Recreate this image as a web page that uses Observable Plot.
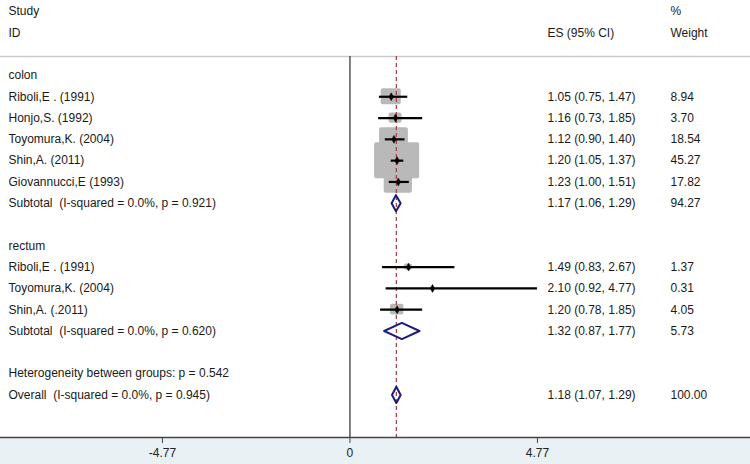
<!DOCTYPE html>
<html><head><meta charset="utf-8">
<script src="https://cdn.jsdelivr.net/npm/d3@7"></script>
<script src="https://cdn.jsdelivr.net/npm/@observablehq/plot@0.6"></script>
<style>body{margin:0;background:#fff} svg{display:block} svg text{white-space:pre}</style>
</head><body><div id="chart"></div>
<script>
// ---- data ----
const rowLabels = ["colon","Riboli,E . (1991)","Honjo,S. (1992)","Toyomura,K. (2004)","Shin,A. (2011)","Giovannucci,E (1993)","Subtotal  (I-squared = 0.0%, p = 0.921)","","rectum","Riboli,E . (1991)","Toyomura,K. (2004)","Shin,A. (.2011)","Subtotal  (I-squared = 0.0%, p = 0.620)","","Heterogeneity between groups: p = 0.542","Overall  (I-squared = 0.0%, p = 0.945)"];
const rowKinds = ["group","study","study","study","study","study","pooled","blank","group","study","study","study","pooled","blank","note","pooled"];
const esVals = [null,1.05,1.16,1.12,1.20,1.23,1.17,null,null,1.49,2.10,1.20,1.32,null,null,1.18];
const loVals = [null,0.75,0.73,0.90,1.05,1.00,1.06,null,null,0.83,0.92,0.78,0.87,null,null,1.07];
const hiVals = [null,1.47,1.85,1.40,1.37,1.51,1.29,null,null,2.67,4.77,1.85,1.77,null,null,1.29];
const weightVals = ["","8.94","3.70","18.54","45.27","17.82","94.27","","","1.37","0.31","4.05","5.73","","","100.00"];
const xTicks = [-4.77, 0, 4.77];
const overallES = 1.18;
const headLeft = [{row: -3, text: "Study"}, {row: -2, text: "ID"}];
const headES = [{row: -2, text: "ES (95% CI)"}];
const headWt = [{row: -3, text: "%"}, {row: -2, text: "Weight"}];

// ---- table built from arrays ----
const rows = rowLabels.map((label, i) => ({
  i, label, kind: rowKinds[i], es: esVals[i], lo: loVals[i], hi: hiVals[i], w: weightVals[i],
  esText: esVals[i] == null ? "" : `${esVals[i].toFixed(2)} (${loVals[i].toFixed(2)}, ${hiVals[i].toFixed(2)})`
}));
const studies = rows.filter(d => d.kind === "study");
const pooled = rows.filter(d => d.kind === "pooled");
const withCI = rows.filter(d => d.es != null);

// layout
const headerRule = -0.89, axisRow = 17.0;
const colX = {left: 8, es: 547, wt: 670};
const boxW = 0.0851, boxH = 0.1256, diaH = 0.38;

const diamondPts = pooled.flatMap(d => [
  {i: d.i, x: d.lo, y: d.i}, {i: d.i, x: d.es, y: d.i - diaH},
  {i: d.i, x: d.hi, y: d.i}, {i: d.i, x: d.es, y: d.i + diaH},
  {i: d.i, x: d.lo, y: d.i}
]);

const txt = "#1a1a1a";
const tOpts = {frameAnchor: "left", textAnchor: "start", fill: txt};
const chart = Plot.plot({
  width: 750, height: 464,
  marginTop: 0, marginLeft: 0, marginRight: 0, marginBottom: 27,
  style: {fontFamily: "'Liberation Sans', Arial, sans-serif", fontSize: "12px", color: txt,
          background: "linear-gradient(to bottom, #ffffff 437px, #e9f1f4 437px)"},
  x: {domain: [-8.89, 10.19]},
  y: {domain: [-3.52, axisRow], reverse: true, axis: null},
  marks: [
    Plot.ruleY([headerRule], {stroke: "#c9c9c9", strokeWidth: 1.5}),
    Plot.ruleX([0], {y1: headerRule, y2: axisRow, stroke: "#555", strokeWidth: 1.5}),
    Plot.rect(studies, {x1: d => d.es - boxW * Math.sqrt(+d.w), x2: d => d.es + boxW * Math.sqrt(+d.w),
      y1: d => d.i - boxH * Math.sqrt(+d.w), y2: d => d.i + boxH * Math.sqrt(+d.w),
      fill: "#b9b9b9", rx: 2}),
    Plot.ruleX([overallES], {y1: headerRule, y2: axisRow, stroke: "#a3383c", strokeDasharray: "4,3", strokeWidth: 1.2}),
    Plot.ruleY(studies, {x1: "lo", x2: "hi", y: "i", stroke: "#000", strokeWidth: 2.2}),
    Plot.dot(studies, {x: "es", y: "i", symbol: "diamond", r: 2.4, fill: "#000", stroke: "#000", strokeWidth: 0.5}),
    Plot.line(diamondPts, {x: "x", y: "y", z: "i", stroke: "#1c1c7c", strokeWidth: 2, curve: "linear"}),
    Plot.text(rows, {y: "i", text: "label", dx: colX.left, ...tOpts}),
    Plot.text(withCI, {y: "i", text: "esText", dx: colX.es, ...tOpts}),
    Plot.text(withCI, {y: "i", text: "w", dx: colX.wt, ...tOpts}),
    Plot.text(headLeft, {y: "row", text: "text", dx: colX.left, ...tOpts}),
    Plot.text(headES, {y: "row", text: "text", dx: colX.es, ...tOpts}),
    Plot.text(headWt, {y: "row", text: "text", dx: colX.wt, ...tOpts}),
    Plot.ruleY([axisRow], {stroke: "#444", strokeWidth: 1.5}),
    Plot.axisX({ticks: xTicks, tickFormat: d => d === 0 ? "0" : d.toFixed(2), tickSize: 6, tickPadding: 5,
      stroke: "#444", fill: "#222", fontSize: 12})
  ]
});
document.getElementById("chart").append(chart);
</script>
</body></html>
